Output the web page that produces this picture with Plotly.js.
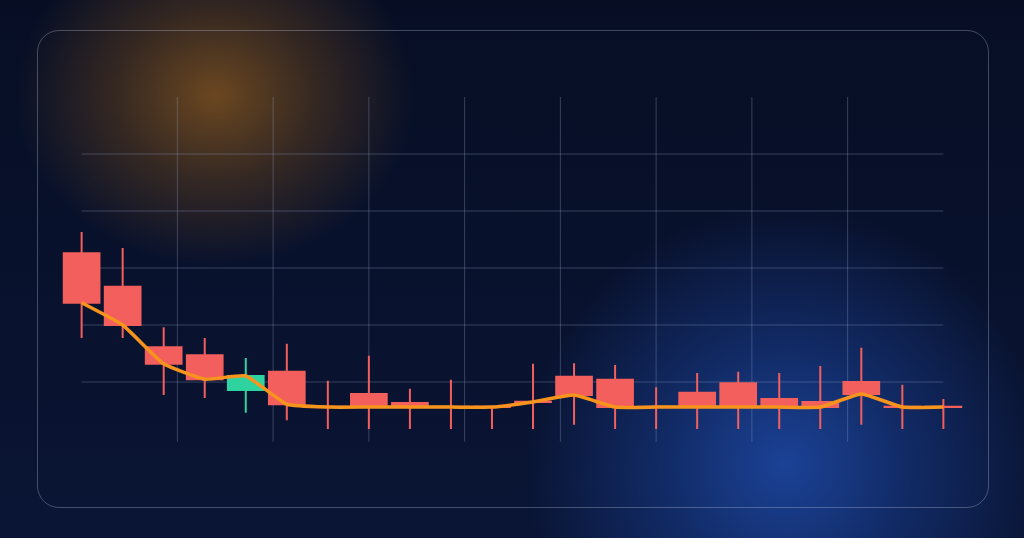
<!DOCTYPE html>
<html>
<head>
<meta charset="utf-8">
<script src="https://cdn.plot.ly/plotly-3.0.1.min.js"></script>
<style>
  html, body { margin: 0; padding: 0; }
  body {
    width: 1024px; height: 538px; overflow: hidden; position: relative;
    background:
      radial-gradient(ellipse 200px 170px at 215px 95px, rgba(112,74,32,0.95) 0%, rgba(90,60,30,0.55) 50%, rgba(60,45,30,0) 100%),
      radial-gradient(ellipse 260px 260px at 785px 465px, rgba(28,68,155,0.95) 0%, rgba(22,55,130,0.6) 50%, rgba(12,25,70,0) 100%),
      linear-gradient(180deg, #070e24 0%, #0a1535 100%);
  }
  #panel {
    position: absolute; left: 37px; top: 30px; width: 950px; height: 476px;
    border: 1.5px solid rgba(190,200,225,0.32); border-radius: 22px;
  }
  #chart { position: absolute; left: 0; top: 0; width: 1024px; height: 538px; }
</style>
</head>
<body>
<div id="panel"></div>
<div id="chart"></div>
<script>
// candle values (one grid step = 10)
var opens  = [32.6, 26.7, 16.1, 14.7, 8.6, 11.8, 5.65, 7.9, 6.3, 5.65, 5.65, 6.55, 10.9, 10.4, 5.65, 8.1, 9.8, 7.0, 6.5, 10.0, 5.65, 5.65];
var closes = [23.9, 20.0, 13.2, 10.5, 11.05, 6.1, 5.6, 5.6, 5.6, 5.6, 5.6, 6.5, 7.7, 5.6, 5.6, 5.6, 5.6, 5.6, 5.6, 7.9, 5.6, 5.6];
var highs  = [36.3, 33.5, 19.6, 17.7, 14.2, 16.7, 10.2, 14.6, 8.8, 10.4, 5.7, 13.2, 13.3, 13.0, 9.1, 11.6, 11.8, 11.6, 12.8, 16.0, 9.5, 7.0];
var lows   = [17.7, 17.7, 7.7, 7.2, 4.6, 3.3, 1.75, 1.75, 1.75, 1.75, 1.75, 1.75, 2.5, 1.75, 1.75, 1.75, 1.75, 1.75, 1.75, 2.5, 1.75, 1.75];
var gridY = [10, 20, 30, 40, 50];
var gridXCount = 9;

var idx = opens.map(function (_, i) { return i; });
var last = idx.length - 1;

var shapes = [];
var gridColor = 'rgba(150,165,200,0.33)';
for (var i = 0; i < gridY.length; i++) {
  shapes.push({type: 'line', layer: 'below', x0: 0, x1: last, y0: gridY[i], y1: gridY[i],
    line: {color: gridColor, width: 1}});
}
for (var k = 1; k < gridXCount; k++) {
  var gx = last * k / gridXCount;
  shapes.push({type: 'line', layer: 'below', x0: gx, x1: gx, y0: -0.5, y1: 60,
    line: {color: gridColor, width: 1}});
}

var candles = {
  type: 'candlestick',
  x: idx, open: opens, high: highs, low: lows, close: closes,
  increasing: {line: {color: '#2fd3a0', width: 2}, fillcolor: '#2fd3a0'},
  decreasing: {line: {color: '#f25f5c', width: 2}, fillcolor: '#f25f5c'},
  hoverinfo: 'skip',
  showlegend: false
};

var closeLine = {
  type: 'scatter', mode: 'lines',
  x: idx, y: closes,
  line: {color: '#f7941d', width: 3.5, shape: 'spline', smoothing: 0.4},
  hoverinfo: 'skip',
  showlegend: false
};

var layout = {
  width: 1024, height: 538,
  margin: {l: 57, r: 56, t: 90, b: 88},
  paper_bgcolor: 'rgba(0,0,0,0)',
  plot_bgcolor: 'rgba(0,0,0,0)',
  boxgap: 0.13,
  boxgroupgap: 0,
  xaxis: {range: [-0.6, last + 0.6], showgrid: false, zeroline: false, showticklabels: false,
    showline: false, ticks: '', rangeslider: {visible: false}, fixedrange: true},
  yaxis: {range: [-1.93, 61.23], showgrid: false, zeroline: false, showticklabels: false,
    showline: false, ticks: '', fixedrange: true},
  shapes: shapes,
  showlegend: false
};

Plotly.newPlot('chart', [candles, closeLine], layout, {displayModeBar: false, staticPlot: true});
</script>
</body>
</html>
